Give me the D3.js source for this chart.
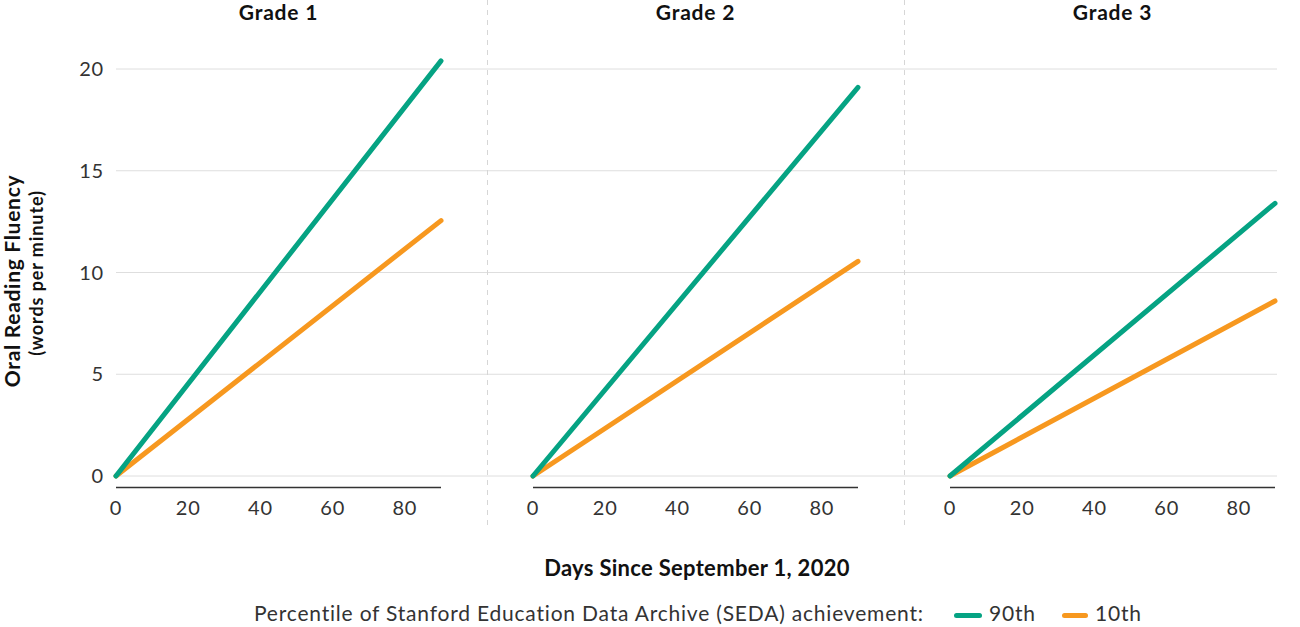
<!DOCTYPE html>
<html><head><meta charset="utf-8">
<script src="https://cdn.jsdelivr.net/npm/d3@7"></script>
<style>body{margin:0;background:#fff;} text{font-family:Lato,"Open Sans",sans-serif;}</style>
</head><body>
<svg id="c" width="1300" height="627"></svg>
<script>
const grades = ["Grade 1", "Grade 2", "Grade 3"];
const days = [0, 90];
const p90 = [[0, 20.4], [0, 19.1], [0, 13.4]];
const p10 = [[0, 12.55], [0, 10.55], [0, 8.6]];
const xTicks = [0, 20, 40, 60, 80];
const yTicks = [0, 5, 10, 15, 20];
const seriesNames = ["90th", "10th"];
const colors = {"90th": "#05a383", "10th": "#f7981f"};

const svg = d3.select("#c");
const y = d3.scaleLinear().domain([0, 20]).range([476, 69]);
const panelX0 = [116, 533, 950];
const panelW = 325;

// gridlines across all panels
svg.append("g").selectAll("line").data(yTicks).join("line")
  .attr("x1", 116).attr("x2", 1277)
  .attr("y1", d => y(d)).attr("y2", d => y(d))
  .attr("stroke", "#dedede").attr("stroke-width", 1);

// dividers
[487.5, 904.5].forEach(xp => {
  svg.append("line").attr("x1", xp).attr("x2", xp).attr("y1", 0).attr("y2", 527)
    .attr("stroke", "#d6d6d6").attr("stroke-width", 1).attr("stroke-dasharray", "5,5");
});

// y tick labels
svg.append("g").selectAll("text").data(yTicks).join("text")
  .attr("x", 104).attr("y", d => y(d)).attr("dy", "0.35em")
  .attr("text-anchor", "end").attr("font-size", 20).attr("letter-spacing", 0.8).attr("fill", "#333")
  .text(d => d);

grades.forEach((g, i) => {
  const x = d3.scaleLinear().domain([0, 90]).range([panelX0[i], panelX0[i] + panelW]);
  const gp = svg.append("g");
  gp.append("text").attr("x", x(45)).attr("y", 20).attr("text-anchor", "middle")
    .attr("font-size", 21).attr("font-weight", "bold").attr("letter-spacing", 0.8).attr("fill", "#111").text(g);
  // axis baseline
  gp.append("line").attr("x1", x(0)).attr("x2", x(90)).attr("y1", 487.5).attr("y2", 487.5)
    .attr("stroke", "#333").attr("stroke-width", 1.5);
  gp.selectAll("text.xt").data(xTicks).join("text").attr("class", "xt")
    .attr("x", d => x(d)).attr("y", 508).attr("dy", "0.35em")
    .attr("text-anchor", "middle").attr("font-size", 20).attr("letter-spacing", 0.8).attr("fill", "#333").text(d => d);
  const line = d3.line().x((d, k) => x(days[k])).y(d => y(d));
  [["10th", p10[i]], ["90th", p90[i]]].forEach(([name, vals]) => {
    gp.append("path").attr("d", line(vals)).attr("fill", "none")
      .attr("stroke", colors[name]).attr("stroke-width", 5).attr("stroke-linecap", "round");
  });
});

// y axis title
svg.append("text").attr("transform", "translate(20,281) rotate(-90)")
  .attr("text-anchor", "middle").attr("font-size", 21).attr("font-weight", "bold").attr("letter-spacing", 0.7).attr("fill", "#111")
  .text("Oral Reading Fluency");
svg.append("text").attr("transform", "translate(43,273) rotate(-90)")
  .attr("text-anchor", "middle").attr("font-size", 18).attr("font-weight", "bold").attr("letter-spacing", 0.9).attr("fill", "#111")
  .text("(words per minute)");

// x axis title
svg.append("text").attr("x", 697).attr("y", 576).attr("text-anchor", "middle")
  .attr("font-size", 22).attr("font-weight", "bold").attr("letter-spacing", 0.3).attr("fill", "#111")
  .text("Days Since September 1, 2020");

// legend
const lg = svg.append("g");
lg.append("text").attr("x", 254).attr("y", 621).attr("font-size", 21).attr("letter-spacing", 0.8).attr("fill", "#333")
  .text("Percentile of Stanford Education Data Archive (SEDA) achievement:");
const legPos = [[956.5, 979.5, 989], [1064.5, 1085.5, 1095]];
seriesNames.forEach((s, k) => {
  lg.append("line").attr("x1", legPos[k][0]).attr("x2", legPos[k][1])
    .attr("y1", 615.5).attr("y2", 615.5).attr("stroke", colors[s]).attr("stroke-width", 5).attr("stroke-linecap", "round");
  lg.append("text").attr("x", legPos[k][2]).attr("y", 621).attr("font-size", 21).attr("letter-spacing", 0.8).attr("fill", "#333").text(s);
});
</script>
</body></html>
